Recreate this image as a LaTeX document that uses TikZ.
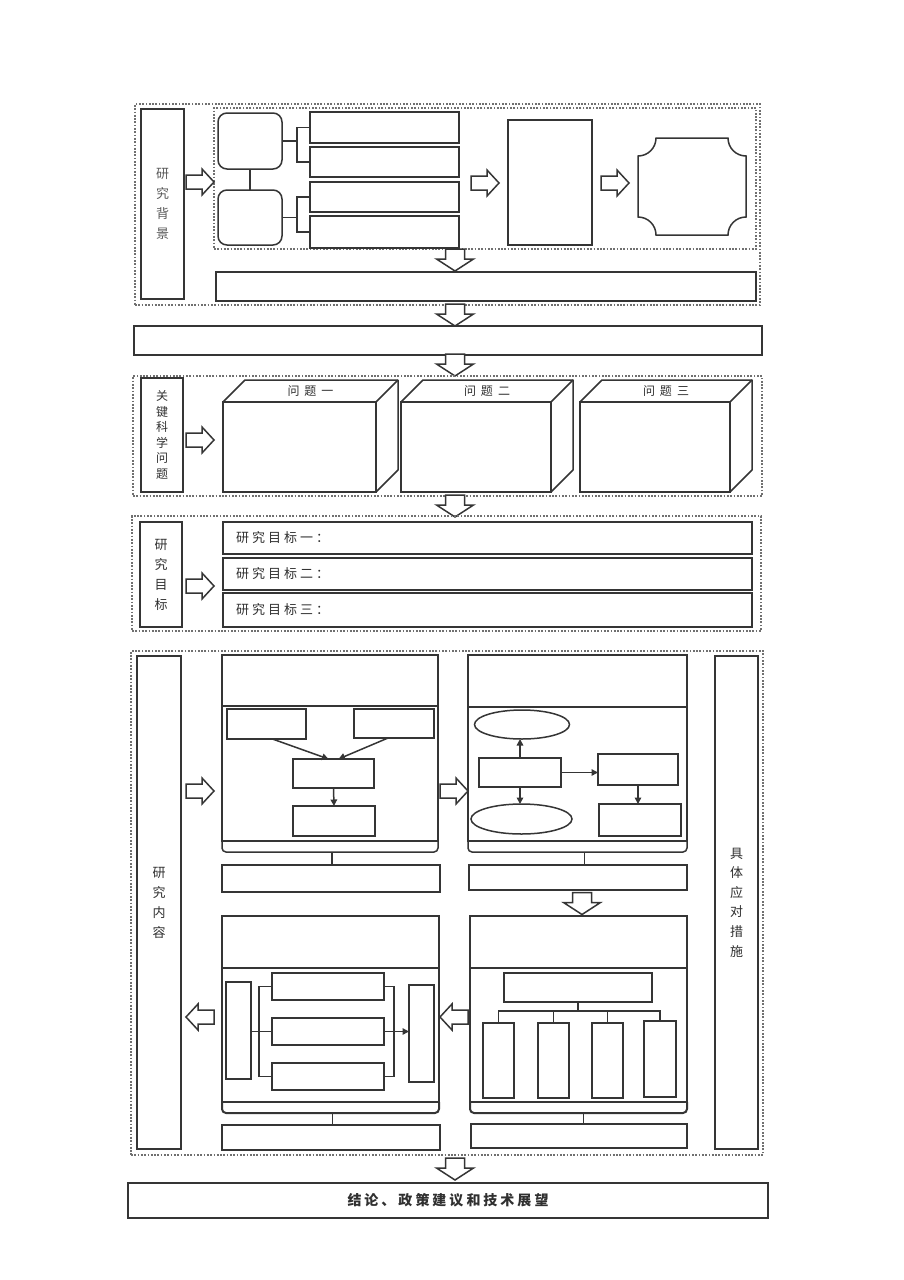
\documentclass[tikz,border=0pt]{standalone}
\usepackage{fontspec}
\newfontfamily\cjk{Noto Sans CJK SC}
\usetikzlibrary{shapes.geometric,arrows.meta,calc}
\definecolor{linec}{HTML}{353535}
\definecolor{dotc}{HTML}{707070}
\definecolor{txtc}{HTML}{303030}
\definecolor{txtl}{HTML}{5A5A5A}
\newcommand{\cg}{\hspace{3pt}}
\newcommand{\cgw}{\hspace{5pt}}
\newcommand{\bx}[7][]{\node[box,minimum width={(#5-#3)*1pt},minimum height={(#6-#4)*1pt},#1] (#2) at ({(#3+#5)/2},{(#4+#6)/2}) {#7};}
\tikzset{
  box/.style={draw=linec,line width=1.5pt,inner sep=0pt,outer sep=0pt,fill=white,
    font=\cjk\fontsize{13}{13}\selectfont,text=txtc},
  rbox/.style={box,rounded corners=9pt},
  dotbox/.style={draw=dotc,line width=1.7pt,dash pattern=on 1.7pt off 1.6pt,fill=none},
  ln/.style={draw=linec,line width=1.5pt},
  heavy/.style={draw=linec,line width=2pt},
  arr/.style={ln,-{Triangle[length=6.5pt,width=6.5pt]}},
  vlabel/.style={align=center,font=\cjk\fontsize{13}{20}\selectfont},
  vlabelb/.style={align=center,font=\cjk\fontsize{12}{15.6}\selectfont},
  vlabelc/.style={align=center,font=\cjk\fontsize{13}{19.6}\selectfont},
  txt/.style={inner sep=0pt,font=\cjk\fontsize{13}{13}\selectfont,text=txtc},
  ttl/.style={inner sep=0pt,font=\cjk\fontsize{12}{12}\selectfont,text=txtc},
  finalbox/.style={font=\cjk\bfseries\fontsize{14}{14}\selectfont,text=txtc},
  blk/.style={draw=linec,line width=1.5pt,fill=white,line join=miter},
  pics/rarr/.style={code={\draw[blk] (-14,-7) -- (2,-7) -- (2,-13) -- (14,0) -- (2,13) -- (2,7) -- (-14,7) -- cycle;}},
  pics/darr/.style={code={\draw[blk] (-9.5,-11) -- (9.5,-11) -- (9.5,-1) -- (18.5,-1) -- (0,11) -- (-18.5,-1) -- (-9.5,-1) -- cycle;}},
}
\begin{document}
\begin{tikzpicture}[x=1pt,y=-1pt]
\useasboundingbox[fill=white] (0,0) rectangle (904,1280);

% ---------------- Section 1: research background
\bx[dotbox]{s1}{135}{104}{760}{305}{}
\bx[dotbox]{s1in}{214}{108}{756}{249}{}
\bx[vlabel,text=txtl]{lab1}{141}{109}{184}{299}{研\\究\\背\\景}
\bx[rbox]{r1}{218}{113}{282}{169}{}
\bx[rbox]{r2}{218}{190}{282}{245}{}
\bx{a1}{310}{112}{459}{143}{}
\bx{a2}{310}{147}{459}{177}{}
\bx{a3}{310}{182}{459}{212}{}
\bx{a4}{310}{216}{459}{248}{}
\bx{big}{508}{120}{592}{245}{}
\draw[ln] (r1.south) -- (r2.north);
\coordinate (k1) at ($(a1.west)!0.5!(a2.west)+(-13,0)$);
\coordinate (k2) at ($(a3.west)!0.5!(a4.west)+(-13,0)$);
\draw[ln] (a1.west) -| (k1) |- (a2.west);
\draw[ln] (a3.west) -| (k2) |- (a4.west);
\draw[ln] (r1.east) -- (r1.east -| k1);
\draw[ln] (r2.east) -- (r2.east -| k2);
% concave-cornered panel
\draw[ln,fill=white] (656,138) -- (728,138)
  arc[start angle=180,end angle=270,radius=18pt] -- (746,217)
  arc[start angle=90,end angle=180,radius=18pt] -- (656,235)
  arc[start angle=0,end angle=90,radius=18pt] -- (638,156)
  arc[start angle=270,end angle=360,radius=18pt] -- cycle;
\pic at (200,182) {rarr};
\pic at (485,183) {rarr};
\pic at (615,183) {rarr};
\bx{w1}{216}{272}{756}{301}{}
\pic at (455,260) {darr};
\pic at (455,315) {darr};
\bx{w2}{134}{326}{762}{355}{}
\pic at (455,365) {darr};

% ---------------- Section 2: key scientific questions
\bx[dotbox]{s2}{133}{376}{762}{496}{}
\bx[vlabelb]{lab2}{141}{378}{183}{492}{关\\键\\科\\学\\问\\题}
\pic at (200,440) {rarr};
\bx{f1}{223}{402}{376}{492}{}
\bx{f2}{401}{402}{551}{492}{}
\bx{f3}{580}{402}{730}{492}{}
\foreach \f in {f1,f2,f3}{
  \draw[ln,line join=round] (\f.north west) -- ++(22,-22) -| ($(\f.south east)+(22,-22)$) -- (\f.south east);
  \draw[ln] (\f.north east) -- ++(22,-22);
}
\node[ttl] (t1) at ($(f1.north)+(11,-11)$) {问\cgw 题\cgw 一};
\node[ttl] (t2) at ($(f2.north)+(11,-11)$) {问\cgw 题\cgw 二};
\node[ttl] (t3) at ($(f3.north)+(11,-11)$) {问\cgw 题\cgw 三};
\pic at (455,506) {darr};

% ---------------- Section 3: research objectives
\bx[dotbox]{s3}{132}{516}{761}{631}{}
\bx[vlabel]{lab3}{140}{522}{182}{627}{研\\究\\目\\标}
\pic at (200,586) {rarr};
\bx{o1}{223}{522}{752}{554}{}
\bx{o2}{223}{558}{752}{590}{}
\bx{o3}{223}{593}{752}{627}{}
\node[txt,anchor=west] (o1t) at (236,538) {研\cg 究\cg 目\cg 标\cg 一\cg ：};
\node[txt,anchor=west] (o2t) at (236,574) {研\cg 究\cg 目\cg 标\cg 二\cg ：};
\node[txt,anchor=west] (o3t) at (236,610) {研\cg 究\cg 目\cg 标\cg 三\cg ：};

% ---------------- Section 4: research content
\bx[dotbox]{s4}{131}{651}{763}{1155}{}
\bx[vlabel]{lab4}{137}{656}{181}{1149}{研\\究\\内\\容}
\bx[vlabelc]{lab5}{715}{656}{758}{1149}{具\\体\\应\\对\\措\\施}

% Q1
\bx{q1}{222}{655}{438}{841}{}
\draw[heavy] ([yshift=-51pt]q1.north west) -- ([yshift=-51pt]q1.north east);
\bx{qa}{227}{709}{306}{739}{}
\bx{qb}{354}{709}{434}{738}{}
\bx{qc}{293}{759}{374}{788}{}
\bx{qd}{293}{806}{375}{836}{}
\draw[arr] ([xshift=6pt]qa.south) -- ([xshift=-5pt]qc.north);
\draw[arr] ([xshift=-6pt]qb.south) -- ([xshift=5pt]qc.north);
\draw[arr] (qc.south) -- (qd.north);
\draw[ln,rounded corners=4pt] (q1.south west) -- ++(0,11) -| (q1.south east);
\coordinate (tr1) at ($(q1.south)+(2,11)$);
\bx{sb1}{222}{865}{440}{892}{}
\draw[ln] (tr1) -- (tr1 |- sb1.north);

% Q2
\bx{q2}{468}{655}{687}{841}{}
\draw[heavy] ([yshift=-52pt]q2.north west) -- ([yshift=-52pt]q2.north east);
\node[box,ellipse,minimum width=95pt,minimum height=29pt] (el1) at (522,724.5) {};
\bx{qe}{479}{758}{561}{787}{}
\node[box,ellipse,minimum width=101pt,minimum height=30pt] (el2) at (521.5,819) {};
\bx{qf}{598}{754}{678}{785}{}
\bx{qg}{599}{804}{681}{836}{}
\draw[arr] (qe.north) -- (qe.north |- el1.south);
\draw[arr] (qe.south) -- (qe.south |- el2.north);
\draw[arr] (qe.east) -- (qe.east -| qf.west);
\draw[arr] (qf.south) -- (qf.south |- qg.north);
\draw[ln,rounded corners=4pt] (q2.south west) -- ++(0,11) -| (q2.south east);
\coordinate (tr2) at ($(q2.south)+(7,11)$);
\bx{sb2}{469}{865}{687}{890}{}
\draw[ln] (tr2) -- (tr2 |- sb2.north);

\pic at (200,791) {rarr};
\pic at (454,791) {rarr};
\pic at (582,903.5) {darr};

% Q3
\bx{q3}{222}{916}{439}{1102}{}
\draw[heavy] ([yshift=-52pt]q3.north west) -- ([yshift=-52pt]q3.north east);
\bx{ql}{226}{982}{251}{1079}{}
\bx{qr}{409}{985}{434}{1082}{}
\bx{h1}{272}{973}{384}{1000}{}
\bx{h2}{272}{1018}{384}{1045}{}
\bx{h3}{272}{1063}{384}{1090}{}
\coordinate (kl) at ($(h1.west)!0.5!(h3.west)+(-13,0)$);
\coordinate (kr) at ($(h1.east)!0.5!(h3.east)+(10,0)$);
\draw[ln] (h1.west) -| (kl) |- (h3.west);
\draw[ln] (h1.east) -| (kr) |- (h3.east);
\draw[ln] (ql.east |- h2.west) -- (h2.west);
\draw[arr] (h2.east) -- (h2.east -| qr.west);
\draw[heavy,rounded corners=4pt] (q3.south west) -- ++(0,11) -| (q3.south east);
\coordinate (tr3) at ($(q3.south)+(2,11)$);
\bx{sb3}{222}{1125}{440}{1150}{}
\draw[ln] (tr3) -- (tr3 |- sb3.north);

% Q4
\bx{q4}{470}{916}{687}{1102}{}
\draw[heavy] ([yshift=-52pt]q4.north west) -- ([yshift=-52pt]q4.north east);
\bx{qt}{504}{973}{652}{1002}{}
\bx{v1}{483}{1023}{514}{1098}{}
\bx{v2}{538}{1023}{569}{1098}{}
\bx{v3}{592}{1023}{623}{1098}{}
\bx{v4}{644}{1021}{676}{1097}{}
\coordinate (bus) at ($(qt.south)+(0,9)$);
\draw[ln] (qt.south) -- (bus);
\draw[ln] (v1.north) |- (bus) -| (v4.north);
\draw[ln] (v2.north) -- (v2.north |- bus);
\draw[ln] (v3.north) -- (v3.north |- bus);
\draw[heavy,rounded corners=4pt] (q4.south west) -- ++(0,11) -| (q4.south east);
\coordinate (tr4) at ($(q4.south)+(5,11)$);
\bx{sb4}{471}{1124}{687}{1148}{}
\draw[ln] (tr4) -- (tr4 |- sb4.north);

\pic[rotate=180] at (454,1017) {rarr};
\pic[rotate=180] at (200,1017) {rarr};

% ---------------- Conclusion
\pic at (455,1169) {darr};
\bx[finalbox]{fin}{128}{1183}{768}{1218}{结\cg 论\cg 、\cg 政\cg 策\cg 建\cg 议\cg 和\cg 技\cg 术\cg 展\cg 望}
\end{tikzpicture}
\end{document}
